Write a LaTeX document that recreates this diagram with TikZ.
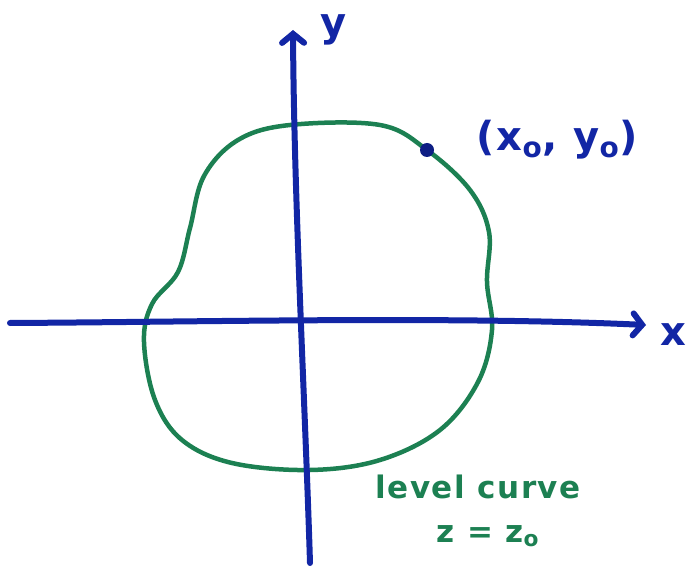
\documentclass[tikz,border=0pt]{standalone}
\usepackage{fontspec}
\newfontfamily\handfont[LetterSpace=5]{DejaVu Sans}
\usetikzlibrary{arrows.meta}
\definecolor{penblue}{RGB}{18,38,165}
\definecolor{pengreen}{RGB}{28,128,82}
\tikzset{
  axis/.style={draw=penblue, line width=6pt, line cap=round, -{Straight Barb[length=9pt,width=22pt,line cap=round]}},
  levelcurve/.style={draw=pengreen, line width=4.5pt},
  bluelabel/.style={text=penblue, font=\handfont\bfseries\fontsize{40}{44}\selectfont, inner sep=0pt},
  greenlabel/.style={text=pengreen, font=\handfont\bfseries\fontsize{31}{35}\selectfont, inner sep=0pt},
}
\begin{document}
\begin{tikzpicture}[x=1pt,y=-1pt]
\useasboundingbox (0,0) rectangle (690,569);
% level curve
\draw[levelcurve] plot[smooth cycle, tension=0.6] coordinates {
 (290,125) (380,125) (427,150) (470,190) (489,232) (487,282) (492,330)
 (478,382) (440,430) (380,460) (310,470) (232,463) (182,440) (155,400)
 (144,342) (152,304) (178,272) (190,228) (204,176) (238,140)};
% axes
\coordinate (xs) at (10,323);
\coordinate (xe) at (646,325);
\coordinate (ys) at (310,563);
\coordinate (ye) at (293,30);
\draw[axis] (xs) .. controls (200,322) and (450,316) .. (xe);
\draw[axis] (ys) .. controls (305,400) and (294,200) .. (ye);
% point
\node[circle, fill=penblue!80!black, minimum size=14pt, inner sep=0pt] (p) at (427,150) {};
% labels
\node[bluelabel] (pl) at (557,140) {(x\textsubscript{o}, y\textsubscript{o})};
\node[bluelabel] (yl) at (334,30) {y};
\node[bluelabel] (xl) at (673,335) {x};
\node[greenlabel] (lc) at (478,487) {level curve};
\node[greenlabel] (zl) at (488,536) {z = z\textsubscript{o}};
\end{tikzpicture}
\end{document}
